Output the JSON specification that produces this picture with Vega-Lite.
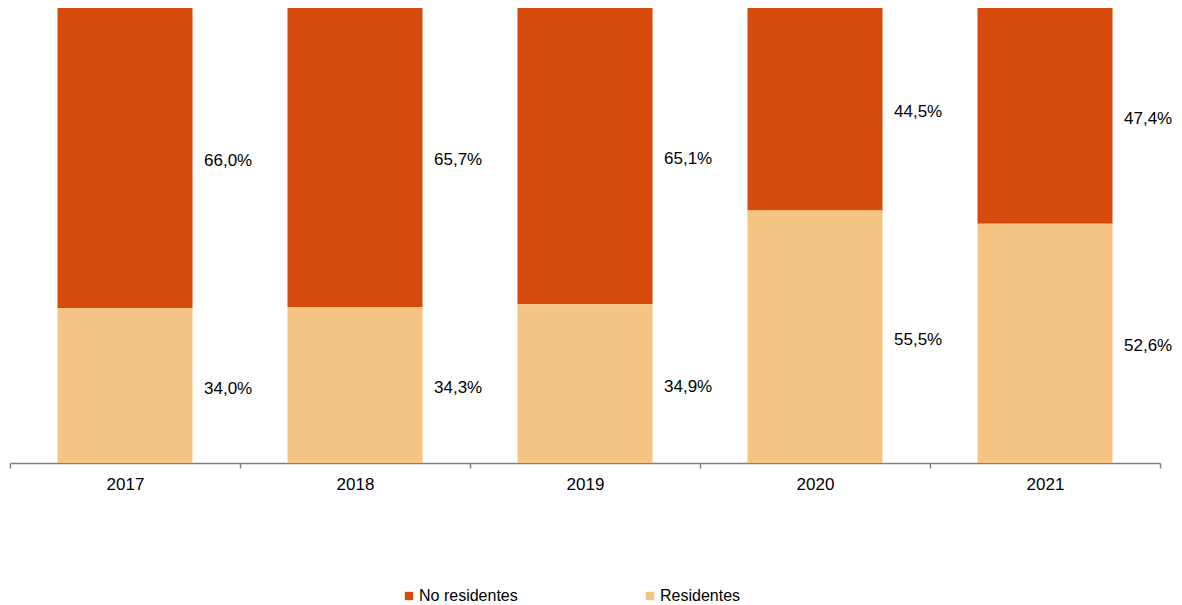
{
  "$schema": "https://vega.github.io/schema/vega-lite/v6.json",
  "width": 1150,
  "height": 455,
  "autosize": "none",
  "padding": {"left": 10, "top": 8, "right": 22, "bottom": 142},
  "config": {
    "view": {"stroke": null},
    "font": "Liberation Sans",
    "locale": {"number": {"decimal": ",", "thousands": ".", "grouping": [3], "currency": ["", " €"]}}
  },
  "data": {
    "values": [
      {"anio": "2017", "tipo": "No residentes", "valor": 66.0},
      {"anio": "2017", "tipo": "Residentes", "valor": 34.0},
      {"anio": "2018", "tipo": "No residentes", "valor": 65.7},
      {"anio": "2018", "tipo": "Residentes", "valor": 34.3},
      {"anio": "2019", "tipo": "No residentes", "valor": 65.1},
      {"anio": "2019", "tipo": "Residentes", "valor": 34.9},
      {"anio": "2020", "tipo": "No residentes", "valor": 44.5},
      {"anio": "2020", "tipo": "Residentes", "valor": 55.5},
      {"anio": "2021", "tipo": "No residentes", "valor": 47.4},
      {"anio": "2021", "tipo": "Residentes", "valor": 52.6}
    ]
  },
  "transform": [
    {"stack": "valor", "groupby": ["anio"], "sort": [{"field": "tipo", "order": "descending"}], "as": ["v0", "v1"]},
    {"calculate": "(datum.v0 + datum.v1) / 2", "as": "vmid"},
    {"calculate": "datum.valor / 100", "as": "frac"}
  ],
  "encoding": {
    "x": {
      "field": "anio",
      "type": "nominal",
      "scale": {"paddingInner": 0, "paddingOuter": 0},
      "axis": {
        "title": null,
        "labelAngle": 0,
        "tickBand": "extent",
        "domainColor": "#808080",
        "domainWidth": 1.5,
        "tickColor": "#808080",
        "tickWidth": 1.5,
        "tickSize": 5,
        "labelFontSize": 17,
        "labelColor": "#000000",
        "labelPadding": 8,
        "labelFont": "Liberation Sans"
      }
    }
  },
  "layer": [
    {
      "mark": {"type": "bar", "width": 135},
      "encoding": {
        "y": {"field": "v0", "type": "quantitative", "scale": {"domain": [0, 100]}, "axis": null},
        "y2": {"field": "v1"},
        "color": {
          "field": "tipo",
          "type": "nominal",
          "scale": {"domain": ["No residentes", "Residentes"], "range": ["#D64B0B", "#F5C482"]},
          "legend": {
            "title": null,
            "orient": "none",
            "direction": "horizontal",
            "legendX": 391,
            "legendY": 580,
            "symbolType": "square",
            "symbolSize": 70,
            "symbolStrokeWidth": 0,
            "labelOffset": 2,
            "labelFontSize": 16,
            "labelColor": "#000000",
            "labelFont": "Liberation Sans",
            "columnPadding": 124
          }
        }
      }
    },
    {
      "mark": {"type": "text", "align": "left", "baseline": "middle", "dx": 79, "dy": 3, "fontSize": 17, "color": "#000000", "font": "Liberation Sans"},
      "encoding": {
        "y": {"field": "vmid", "type": "quantitative", "scale": {"domain": [0, 100]}},
        "text": {"field": "frac", "type": "quantitative", "format": ".1%"}
      }
    }
  ]
}
